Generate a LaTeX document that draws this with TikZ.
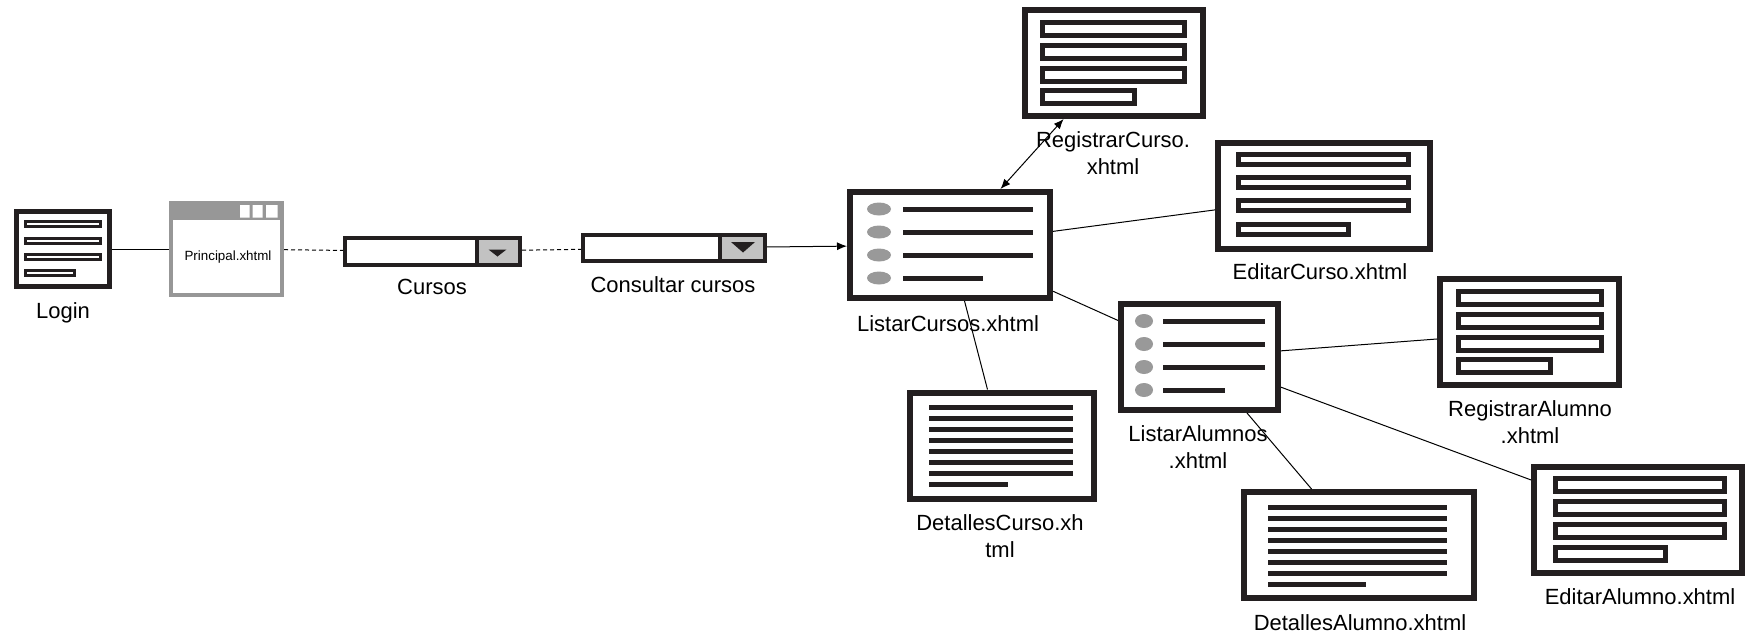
\documentclass[tikz,border=0pt]{standalone}
\usepackage{fontspec}
\setmainfont{Liberation Sans}
\usetikzlibrary{arrows.meta}
\definecolor{iconblack}{HTML}{231F20}
\definecolor{windowgray}{HTML}{979797}
\definecolor{buttongray}{HTML}{C2C2C2}
\definecolor{bulletgray}{HTML}{999999}

\begin{document}
\begin{tikzpicture}[
  >=Latex,
  font=\fontsize{12.5}{15}\selectfont,
  page/.style={draw=iconblack, fill=white, line width=0.12cm, inner sep=0pt, minimum height=2.12cm},
  loginpage/.style={draw=iconblack, fill=white, line width=0.1cm, inner sep=0pt, minimum width=1.86cm, minimum height=1.50cm},
  window/.style={draw=windowgray, fill=white, line width=0.08cm, inner sep=0pt, minimum width=2.22cm, minimum height=1.84cm},
  combo/.style={draw=iconblack, fill=white, line width=0.08cm, inner sep=0pt},
  combosplit/.style={draw=iconblack, line width=0.08cm},
  pagelabel/.style={anchor=base, align=center, inner sep=0pt},
  formrow/.style={draw=iconblack, line width=0.1cm},
  textrow/.style={draw=iconblack, line width=0.1cm},
  bullet/.style={fill=bulletgray},
  link/.style={draw=black, line width=0.02cm},
  dashlink/.style={link, dash pattern=on 0.08cm off 0.06cm},
  arrow/.style={link, -{Latex[length=0.2cm, width=0.16cm]}},
  twoway/.style={link, {Latex[length=0.2cm, width=0.16cm]}-{Latex[length=0.2cm, width=0.16cm]}}
]
\useasboundingbox (0,0) rectangle (34.94,-12.72);

% login and main window
\node[loginpage] (login) at (1.26,-4.98) {};
\draw[formrow, line width=0.06cm] (0.51,-4.43) rectangle (2.01,-4.53) (0.51,-4.77) rectangle (2.01,-4.87) (0.51,-5.09) rectangle (2.01,-5.19) (0.51,-5.41) rectangle (1.49,-5.51);
\node[pagelabel] (loginlabel) at (1.26,-6.36) {Login};

\node[window] (principal) at (4.53,-4.98) {};
\fill[windowgray] (3.38,-4.02) rectangle (5.68,-4.40);
\fill[white] (4.80,-4.10) rectangle (4.99,-4.35) (5.05,-4.10) rectangle (5.25,-4.35) (5.32,-4.10) rectangle (5.55,-4.35);
\node[font=\fontsize{7.6}{9}\selectfont] (principaltext) at (4.56,-5.14) {Principal.xhtml};

% menus
\node[combo, minimum width=3.50cm, minimum height=0.54cm] (cursos) at (8.65,-5.03) {};
\fill[buttongray] (9.54,-4.80) rectangle (10.36,-5.26);
\draw[combosplit] (9.54,-4.76) -- (9.54,-5.30);
\fill[iconblack] (9.77,-4.99) -- (10.13,-4.99) -- (9.95,-5.13) -- cycle;
\node[pagelabel] (cursoslabel) at (8.64,-5.88) {Cursos};

\node[combo, minimum width=3.64cm, minimum height=0.52cm] (consultar) at (13.48,-4.96) {};
\fill[buttongray] (14.40,-4.74) rectangle (15.26,-5.18);
\draw[combosplit] (14.40,-4.70) -- (14.40,-5.22);
\fill[iconblack] (14.62,-4.84) -- (15.10,-4.84) -- (14.86,-5.05) -- cycle;
\node[pagelabel] (consultarlabel) at (13.46,-5.84) {Consultar cursos};

% cursos pages
\node[page, minimum width=4.00cm] (listcur) at (19.00,-4.90) {};
\fill[bullet] (17.58,-4.18) ellipse (0.24 and 0.13) (17.58,-4.64) ellipse (0.24 and 0.13) (17.58,-5.10) ellipse (0.24 and 0.13) (17.58,-5.56) ellipse (0.24 and 0.13);
\draw[textrow] (18.06,-4.18) -- (20.66,-4.18) (18.06,-4.64) -- (20.66,-4.64) (18.06,-5.10) -- (20.66,-5.10) (18.06,-5.56) -- (19.66,-5.56);
\node[pagelabel] (listcurlabel) at (18.96,-6.62) {ListarCursos.xhtml};

\node[page, minimum width=3.56cm] (regcur) at (22.28,-1.26) {};
\draw[formrow] (20.85,-0.45) rectangle (23.69,-0.71) (20.85,-0.91) rectangle (23.69,-1.17) (20.85,-1.37) rectangle (23.69,-1.63) (20.85,-1.81) rectangle (22.69,-2.07);
\node[pagelabel] (regcurlabel) at (22.26,-3.48) {RegistrarCurso.\\xhtml};

\node[page, minimum width=4.24cm] (editcur) at (26.48,-3.91) {};
\draw[formrow] (24.77,-3.08) rectangle (28.17,-3.28) (24.77,-3.54) rectangle (28.17,-3.74) (24.77,-4.00) rectangle (28.17,-4.20) (24.77,-4.48) rectangle (26.97,-4.68);
\node[pagelabel] (editcurlabel) at (26.40,-5.58) {EditarCurso.xhtml};

\node[page, minimum width=3.68cm] (detcur) at (20.04,-8.91) {};
\draw[textrow] (18.58,-8.14) -- (21.46,-8.14) (18.58,-8.36) -- (21.46,-8.36) (18.58,-8.58) -- (21.46,-8.58) (18.58,-8.80) -- (21.46,-8.80) (18.58,-9.02) -- (21.46,-9.02) (18.58,-9.24) -- (21.46,-9.24) (18.58,-9.46) -- (21.46,-9.46) (18.58,-9.68) -- (20.16,-9.68);
\node[pagelabel] (detcurlabel) at (20.00,-11.14) {DetallesCurso.xh\\tml};

% alumnos pages
\node[page, minimum width=3.14cm] (listalu) at (23.99,-7.14) {};
\fill[bullet] (22.88,-6.42) ellipse (0.18 and 0.14) (22.88,-6.88) ellipse (0.18 and 0.14) (22.88,-7.34) ellipse (0.18 and 0.14) (22.88,-7.80) ellipse (0.18 and 0.14);
\draw[textrow] (23.26,-6.42) -- (25.30,-6.42) (23.26,-6.88) -- (25.30,-6.88) (23.26,-7.34) -- (25.30,-7.34) (23.26,-7.80) -- (24.50,-7.80);
\node[pagelabel] (listalulabel) at (23.96,-9.36) {ListarAlumnos\\.xhtml};

\node[page, minimum width=3.58cm] (regalu) at (30.59,-6.64) {};
\draw[formrow] (29.17,-5.83) rectangle (32.03,-6.09) (29.17,-6.29) rectangle (32.03,-6.55) (29.17,-6.75) rectangle (32.03,-7.01) (29.17,-7.19) rectangle (31.01,-7.45);
\node[pagelabel] (regalulabel) at (30.60,-8.86) {RegistrarAlumno\\.xhtml};

\node[page, minimum width=4.16cm] (editalu) at (32.76,-10.39) {};
\draw[formrow] (31.11,-9.57) rectangle (34.49,-9.83) (31.11,-10.03) rectangle (34.49,-10.29) (31.11,-10.49) rectangle (34.49,-10.75) (31.11,-10.95) rectangle (33.31,-11.21);
\node[pagelabel] (editalulabel) at (32.80,-12.08) {EditarAlumno.xhtml};

\node[page, minimum width=4.60cm] (detalu) at (27.18,-10.90) {};
\draw[textrow] (25.36,-10.14) -- (28.94,-10.14) (25.36,-10.36) -- (28.94,-10.36) (25.36,-10.58) -- (28.94,-10.58) (25.36,-10.80) -- (28.94,-10.80) (25.36,-11.02) -- (28.94,-11.02) (25.36,-11.24) -- (28.94,-11.24) (25.36,-11.46) -- (28.94,-11.46) (25.36,-11.68) -- (27.32,-11.68);
\node[pagelabel] (detalulabel) at (27.20,-12.60) {DetallesAlumno.xhtml};

% navigation
\draw[link] (login) -- (principal);
\draw[dashlink] (principal) -- (cursos);
\draw[dashlink] (cursos) -- (consultar);
\draw[arrow] (consultar) -- (listcur);
\draw[twoway] (listcur) -- (regcur);
\draw[link] (listcur) -- (editcur);
\draw[link] (listcur) -- (listalu);
\draw[link] (listcur) -- (detcur);
\draw[link] (listalu) -- (regalu);
\draw[link] (listalu) -- (editalu);
\draw[link] (listalu) -- (detalu);
\end{tikzpicture}
\end{document}
